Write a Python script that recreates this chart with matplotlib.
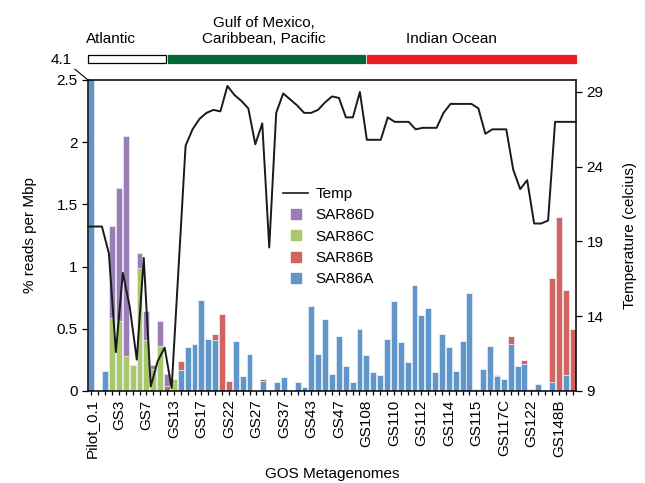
import numpy as np
import matplotlib.pyplot as plt
from matplotlib.lines import Line2D
from matplotlib.patches import Rectangle
import matplotlib.transforms as mtransforms

plt.rcParams['font.family'] = ['Liberation Sans', 'DejaVu Sans']
plt.rcParams['font.size'] = 11

# --- data (71 GOS samples) ---
sar86a = [4.1, 0.01, 0.16, 0, 0, 0, 0, 0, 0, 0,
          0, 0, 0, 0.17, 0.35, 0.38, 0.73, 0.42, 0.41, 0,
          0, 0.40, 0.12, 0.30, 0, 0.08, 0.01, 0.07, 0.11, 0.01,
          0.07, 0.03, 0.68, 0.30, 0.58, 0.14, 0.44, 0.20, 0.07, 0.50,
          0.29, 0.15, 0.13, 0.42, 0.72, 0.39, 0.23, 0.85, 0.61, 0.67,
          0.15, 0.46, 0.35, 0.16, 0.40, 0.79, 0.02, 0.18, 0.36, 0.12,
          0.10, 0.38, 0.20, 0.22, 0.02, 0.06, 0.005, 0.07, 0, 0.13, 0]
sar86b = [0, 0, 0, 0, 0, 0, 0, 0, 0, 0,
          0, 0.04, 0, 0.07, 0, 0, 0, 0, 0.05, 0.62,
          0.08, 0, 0, 0, 0.01, 0.02, 0, 0, 0, 0,
          0, 0, 0, 0, 0, 0, 0, 0, 0, 0,
          0, 0, 0, 0, 0, 0, 0, 0, 0, 0,
          0, 0, 0, 0, 0, 0, 0, 0, 0, 0.01,
          0, 0.06, 0, 0.03, 0, 0, 0, 0.84, 1.40, 0.68, 0.50]
sar86c = [0, 0, 0, 0.59, 0.56, 0.28, 0.21, 0.99, 0.41, 0.18,
          0.36, 0, 0.10] + [0] * 58
sar86d = [0, 0, 0, 0.74, 1.07, 1.77, 0, 0.12, 0.23, 0.03,
          0.20, 0.10, 0] + [0] * 58
temp = [20.0, 20.0, 20.0, 18.2, 11.6, 16.9, 14.6, 11.1, 17.9, 9.3,
        11.0, 11.9, 9.2, 17.3, 25.4, 26.5, 27.2, 27.6, 27.8, 27.7,
        29.4, 28.8, 28.4, 27.9, 25.5, 26.9, 18.6, 27.6, 28.9, 28.5,
        28.1, 27.6, 27.6, 27.8, 28.3, 28.7, 28.6, 27.3, 27.3, 29.0,
        25.8, 25.8, 25.8, 27.3, 27.0, 27.0, 27.0, 26.5, 26.6, 26.6,
        26.6, 27.6, 28.2, 28.2, 28.2, 28.2, 27.9, 26.2, 26.5, 26.5,
        26.5, 23.8, 22.5, 23.1, 20.2, 20.2, 20.4, 27.0, 27.0, 27.0, 27.0]

tick_labels = ['Pilot_0.1', 'GS3', 'GS7', 'GS13', 'GS17', 'GS22', 'GS27',
               'GS37', 'GS43', 'GS47', 'GS108', 'GS110', 'GS112', 'GS114',
               'GS115', 'GS117C', 'GS122', 'GS148B']
label_every = 4

regions = ['Atlantic', 'Gulf of Mexico,\nCaribbean, Pacific', 'Indian Ocean']
region_bounds = [-0.5, 11, 40, 70.5]
region_colors = ['white', '#006837', '#ED1C24']

series = [('SAR86A', sar86a, '#6196CB'), ('SAR86B', sar86b, '#D2645D'),
          ('SAR86C', sar86c, '#A9C76B'), ('SAR86D', sar86d, '#9A7DB6')]

n = len(sar86a)
x = np.arange(n)

fig = plt.figure(figsize=(6.45, 4.83), dpi=100)
pos = [0.1364, 0.1905, 0.7566, 0.6439]
ax = fig.add_axes(pos)

bottom = np.zeros(n)
for name, vals, col in series:
    vals = np.array(vals, dtype=float)
    ax.bar(x, vals, width=0.86, bottom=bottom, color=col,
           edgecolor='#e8eef6', linewidth=0.5, label=name)
    bottom += vals

ax.set_xlim(-0.5, n - 0.5)
ax.set_ylim(0, 2.5)
ax.set_yticks([0, 0.5, 1, 1.5, 2, 2.5])
ax.set_yticklabels(['0', '0.5', '1', '1.5', '2', '2.5'])
ax.set_xticks(x, minor=True)
ax.set_xticks(x[::label_every])
ax.set_xticklabels(tick_labels, rotation=90)
shift = mtransforms.ScaledTranslation(0.04, 0, fig.dpi_scale_trans)
for lab in ax.get_xticklabels():
    lab.set_transform(lab.get_transform() + shift)
ax.tick_params(axis='x', which='both', length=3, width=0.9, pad=3)
ax.tick_params(axis='y', length=4, width=0.9)
for sp in ax.spines.values():
    sp.set_linewidth(1.1)
ax.set_ylabel('% reads per Mbp', labelpad=14)
ax.set_xlabel('GOS Metagenomes', labelpad=6)

# clipped first bar value
ax.annotate(f'{sar86a[0]}', xy=(0, 1), xycoords='axes fraction',
            xytext=(-11.5, 9.5), textcoords='offset points',
            ha='right', va='bottom',
            arrowprops=dict(arrowstyle='-', lw=0.8, color='black',
                            shrinkA=0, shrinkB=0, relpos=(1, 0)),
            annotation_clip=False)

# temperature on its own category scale
ax_t = fig.add_axes(pos, facecolor='none')
ax_t.plot(np.arange(len(temp)), temp, color='#1a1a1a', lw=1.4,
          clip_on=False, label='Temp')
ax_t.set_xlim(0, len(temp) - 1)
ax_t.set_ylim(9, 29.8)
ax_t.set_yticks([9, 14, 19, 24, 29])
ax_t.yaxis.tick_right()
ax_t.yaxis.set_label_position('right')
ax_t.xaxis.set_visible(False)
for sp in ax_t.spines.values():
    sp.set_visible(False)
ax_t.tick_params(axis='y', length=4, width=0.9)
ax_t.set_ylabel('Temperature (celcius)', labelpad=14)

handles = [Line2D([], [], color='#1a1a1a', lw=1.2, label='Temp')]
for name, vals, col in series[::-1]:
    handles.append(Line2D([], [], marker='s', ls='none', markersize=7.5,
                          markerfacecolor=col, markeredgecolor=col,
                          label=name))
ax_t.legend(handles=handles, loc='upper left', bbox_to_anchor=(0.385, 0.68),
            frameon=False, borderpad=0, handlelength=1.6, handletextpad=0.5,
            labelspacing=0.48, fontsize=11)

# region strip on top
ax_r = fig.add_axes([pos[0], 0.869, pos[2], 0.018])
ax_r.set_xlim(-0.5, n - 0.5)
ax_r.set_ylim(0, 1)
ax_r.axis('off')
gap = 0.15
for i, (name, col) in enumerate(zip(regions, region_colors)):
    x0 = region_bounds[i] + (gap if i > 0 else 0)
    x1 = region_bounds[i + 1] - (gap if i < len(regions) - 1 else 0)
    ec = 'black' if col == 'white' else col
    ax_r.add_patch(Rectangle((x0, 0), x1 - x0, 1, facecolor=col,
                             edgecolor=ec, lw=0.9, clip_on=False))
label_pos = [0.047, 0.361, 0.744]
for name, lx in zip(regions, label_pos):
    ax_r.text(lx, 2.0, name, transform=ax_r.transAxes, ha='center',
              va='bottom', fontsize=11, linespacing=1.15)

fig.savefig('out.png', dpi=100)
